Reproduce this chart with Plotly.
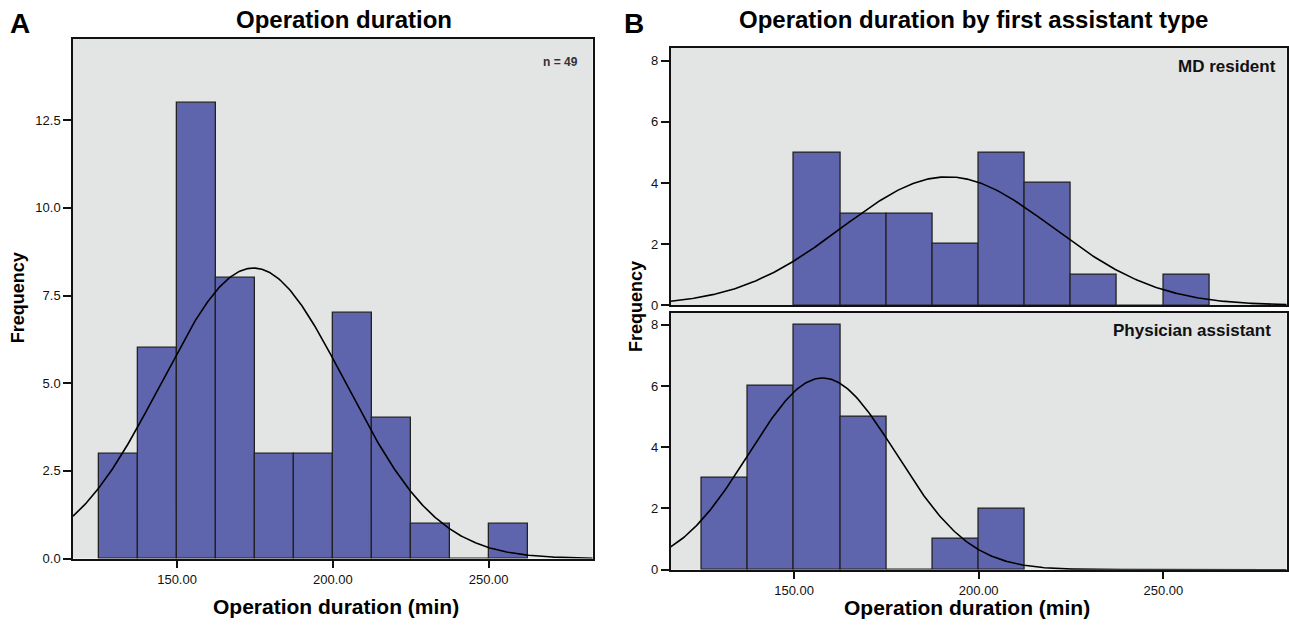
import numpy as np
import plotly.graph_objects as go

# ---- data ----
bin_width = 12.5
bin_starts_all = [125.0, 137.5, 150.0, 162.5, 175.0, 187.5, 200.0, 212.5, 225.0, 237.5, 250.0]
counts_all = [3, 6, 13, 8, 3, 3, 7, 4, 1, 0, 1]

bin_starts_md = [150.0, 162.5, 175.0, 187.5, 200.0, 212.5, 225.0, 237.5, 250.0]
counts_md = [5, 3, 3, 2, 5, 4, 1, 0, 1]

bin_starts_pa = [125.0, 137.5, 150.0, 162.5, 175.0, 187.5, 200.0]
counts_pa = [3, 6, 8, 5, 0, 1, 2]

# fitted normal parameters (mean, sd)
fit_all = (174.5, 29.5)
fit_md = (191.5, 28.5)
fit_pa = (157.7, 19.9)

x_range = [116.6, 283.4]
x_tickvals = [150, 200, 250]
x_ticktext = ["150.00", "200.00", "250.00"]

BAR = "rgb(94,101,173)"
BG = "rgb(227,228,228)"
EDGE = "#222222"
W, H = 1289, 631


def px_x(p):
    return p / W


def px_y(p):
    return 1 - p / H


def normal_curve(mean, sd, n):
    xs = np.linspace(x_range[0], x_range[1], 400)
    ys = n * bin_width / (sd * np.sqrt(2 * np.pi)) * np.exp(-0.5 * ((xs - mean) / sd) ** 2)
    return xs, ys


fig = go.Figure()


def add_hist(starts, counts, fit, xa, ya):
    centers = [s + bin_width / 2 for s in starts]
    fig.add_trace(go.Bar(
        x=centers, y=counts, width=bin_width,
        marker=dict(color=BAR, line=dict(color=EDGE, width=1.3)),
        xaxis=xa, yaxis=ya, showlegend=False, hoverinfo="x+y"))
    xs, ys = normal_curve(fit[0], fit[1], sum(counts))
    fig.add_trace(go.Scatter(
        x=xs, y=ys, mode="lines", line=dict(color="black", width=1.6),
        xaxis=xa, yaxis=ya, showlegend=False, hoverinfo="skip"))


add_hist(bin_starts_all, counts_all, fit_all, "x", "y")
add_hist(bin_starts_md, counts_md, fit_md, "x2", "y2")
add_hist(bin_starts_pa, counts_pa, fit_pa, "x3", "y3")

tickfont = dict(family="Liberation Sans, Arial, sans-serif", size=13, color="#111")

common_x = dict(range=x_range, showgrid=False, zeroline=False, showline=True,
                linecolor="#111", linewidth=1.5, mirror=True, fixedrange=True)
common_y = dict(showgrid=False, zeroline=False, showline=True, linecolor="#111",
                linewidth=1.5, mirror=True, ticks="outside", ticklen=8, tickwidth=1.5,
                tickcolor="#111", tickfont=tickfont, fixedrange=True)

fig.update_layout(
    width=W, height=H,
    margin=dict(l=0, r=0, t=0, b=0),
    paper_bgcolor="white", plot_bgcolor=BG,
    bargap=0,
    font=dict(family="Liberation Sans, Arial, sans-serif", color="#111"),
    xaxis=dict(domain=[px_x(73), px_x(592.7)], anchor="y",
               tickvals=x_tickvals, ticktext=x_ticktext, ticks="outside", ticklen=8,
               tickwidth=1.5, tickcolor="#111", tickfont=tickfont, **common_x),
    yaxis=dict(domain=[px_y(565.7), px_y(39.3)], anchor="x", range=[0, 14.82],
               tickvals=[0, 2.5, 5, 7.5, 10, 12.5],
               ticktext=["0.0", "2.5", "5.0", "7.5", "10.0", "12.5"], **common_y),
    xaxis2=dict(domain=[px_x(670.7), px_x(1286.7)], anchor="y2",
                showticklabels=False, ticks="", matches="x3", **common_x),
    yaxis2=dict(domain=[px_y(309.3), px_y(48.3)], anchor="x2", range=[0, 8.42],
                tickvals=[0, 2, 4, 6, 8], **common_y),
    xaxis3=dict(domain=[px_x(670.7), px_x(1286.7)], anchor="y3",
                tickvals=x_tickvals, ticktext=x_ticktext, ticks="outside", ticklen=8,
                tickwidth=1.5, tickcolor="#111", tickfont=tickfont, **common_x),
    yaxis3=dict(domain=[px_y(577), px_y(316.7)], anchor="x3", range=[0, 8.4],
                tickvals=[0, 2, 4, 6, 8], **common_y),
)

ann_font = "Liberation Sans, Arial, sans-serif"
annotations = [
    dict(text="<b>A</b>", x=px_x(8), y=px_y(24), xanchor="left", yanchor="middle",
         font=dict(size=28, family=ann_font, color="black")),
    dict(text="<b>B</b>", x=px_x(622), y=px_y(24), xanchor="left", yanchor="middle",
         font=dict(size=28, family=ann_font, color="black")),
    dict(text="<b>Operation duration</b>", x=px_x(344), y=px_y(20), xanchor="center",
         yanchor="middle", font=dict(size=24, family=ann_font, color="black")),
    dict(text="<b>Operation duration by first assistant type</b>", x=px_x(973),
         y=px_y(20), xanchor="center", yanchor="middle",
         font=dict(size=24, family=ann_font, color="black")),
    dict(text="<b>Operation duration (min)</b>", x=px_x(336), y=px_y(614),
         xanchor="center", yanchor="middle", font=dict(size=21, family=ann_font, color="black")),
    dict(text="<b>Operation duration (min)</b>", x=px_x(967), y=px_y(615),
         xanchor="center", yanchor="middle", font=dict(size=21, family=ann_font, color="black")),
    dict(text="<b>Frequency</b>", x=px_x(18), y=px_y(302), textangle=-90,
         xanchor="center", yanchor="middle", font=dict(size=18, family=ann_font, color="black")),
    dict(text="<b>Frequency</b>", x=px_x(636), y=px_y(311), textangle=-90,
         xanchor="center", yanchor="middle", font=dict(size=18, family=ann_font, color="black")),
    dict(text="<b>n = 49</b>", x=px_x(580), y=px_y(63), xanchor="right", yanchor="middle",
         font=dict(size=12, family=ann_font, color="#333")),
    dict(text="<b>MD resident</b>", x=px_x(1278), y=px_y(67), xanchor="right",
         yanchor="middle", font=dict(size=17, family=ann_font, color="#111")),
    dict(text="<b>Physician assistant</b>", x=px_x(1273), y=px_y(335), xanchor="right",
         yanchor="middle", font=dict(size=17, family=ann_font, color="#111")),
]
for a in annotations:
    a.update(xref="paper", yref="paper", showarrow=False)
fig.update_layout(annotations=annotations)

fig.write_html("out.html", config={"displayModeBar": False},
               post_script="document.body.style.margin='0';document.body.style.overflow='hidden';")
